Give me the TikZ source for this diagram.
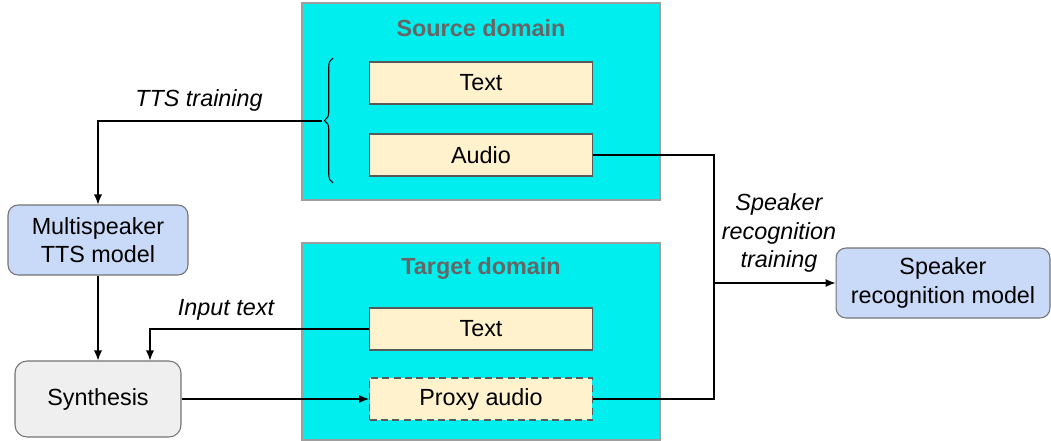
\documentclass[tikz,border=0pt]{standalone}
\usepackage{fontspec}
\setmainfont{Liberation Sans}
\usetikzlibrary{arrows.meta, positioning, decorations.pathreplacing}

\definecolor{domaincyan}{HTML}{00EEEE}
\definecolor{datafill}{HTML}{FFF2CC}
\definecolor{modelblue}{HTML}{C9DAF8}
\definecolor{synthgray}{HTML}{EFEFEF}
\definecolor{titlegray}{HTML}{666666}

\begin{document}
\begin{tikzpicture}[
    x=0.02cm, y=-0.02cm,
    font=\fontsize{13.3}{16}\selectfont,
    domainbox/.style={
        draw=black!38,
        line width=0.9pt,
        fill=domaincyan,
        minimum width=7.16cm,
        minimum height=3.94cm,
        inner sep=0pt,
    },
    domaintitle/.style={
        font=\fontsize{13.3}{16}\selectfont\bfseries,
        text=titlegray,
    },
    databox/.style={
        draw=black!65,
        line width=0.6pt,
        fill=datafill,
        minimum width=4.46cm,
        minimum height=0.84cm,
        inner sep=0pt,
    },
    modelbox/.style={
        draw=black!55,
        line width=0.6pt,
        fill=modelblue,
        rounded corners=0.2cm,
        minimum height=1.4cm,
        align=center,
        inner sep=0pt,
    },
    link/.style={
        line width=0.6pt,
        -{Latex[length=2mm,width=1.6mm]},
    },
    wire/.style={
        line width=0.6pt,
    },
    caption/.style={
        font=\fontsize{13.3}{16}\selectfont\itshape,
        align=center,
    }
]
    \useasboundingbox (0,0) rectangle (1051,440);

    % Domains
    \node[domainbox] (src) at (481,101.5) {};
    \node[domainbox] (tgt) at (481,341.5) {};
    \node[domaintitle] (srctitle) at (481,28) {Source domain};
    \node[domaintitle] (tgttitle) at (481,269) {Target domain};

    % Data
    \node[databox] (srctext) at (481,83) {Text};
    \node[databox] (srcaudio) at (481,155) {Audio};
    \node[databox] (tgttext) at (481,329) {Text};
    \node[databox, dashed, dash pattern=on 4pt off 2.5pt] (proxy) at (481,399) {Proxy audio};

    % Models
    \node[modelbox, minimum width=3.6cm] (tts) at (98,240) {Multispeaker\\TTS model};
    \node[modelbox, minimum width=3.32cm, minimum height=1.52cm,
          fill=synthgray, rounded corners=0.24cm] (synth) at (98,399) {Synthesis};
    \node[modelbox, minimum width=4.28cm] (spk) at (943,283) {Speaker\\recognition model};

    % Brace over source data
    \draw[wire, decorate, decoration={brace, amplitude=0.17cm}] (333,183) -- (333,58);
    \coordinate (bracetip) at (322,121);
    \coordinate (merge) at (714,283);

    % Connectors
    \draw[link] (bracetip) -| (tts.north);
    \draw[link] (tts.south) -- (synth.north);
    \draw[link] (tgttext.west) -| ([xshift=1.04cm]synth.north);
    \draw[link] (synth.east) -- (proxy.west);
    \draw[wire] (srcaudio.east) -| (merge) |- (proxy.east);
    \draw[link] (merge) -- (spk.west);

    % Labels
    \node[caption] (ttslabel) at (199,100) {TTS training};
    \node[caption] (inputlabel) at (226,310) {Input text};
    \node[caption] (spklabel) at (779,233) {Speaker\\recognition\\training};
\end{tikzpicture}
\end{document}
